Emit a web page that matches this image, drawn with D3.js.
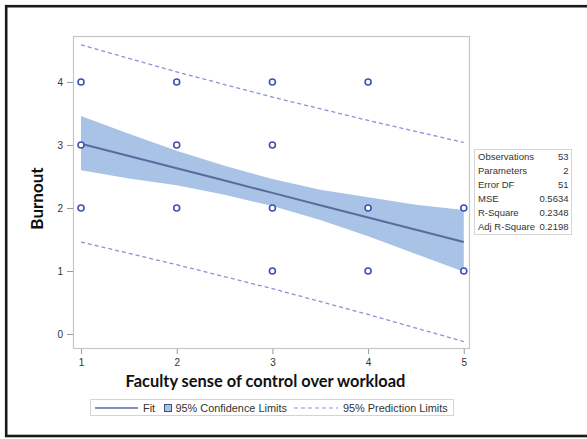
<!DOCTYPE html>
<html>
<head>
<meta charset="utf-8">
<script src="https://cdn.jsdelivr.net/npm/d3@7"></script>
<style>
  html, body { margin: 0; padding: 0; background: #fff; }
  svg { display: block; }
</style>
</head>
<body>
<svg id="chart" width="587" height="439"></svg>
<script>
// ---- Data ----
const pointX = [1, 1, 1, 2, 2, 2, 3, 3, 3, 3, 4, 4, 4, 5, 5];
const pointY = [4, 3, 2, 4, 3, 2, 4, 3, 2, 1, 4, 2, 1, 2, 1];

const bandX     = [1, 1.5, 2, 2.5, 3, 3.5, 4, 4.5, 5];
const fitY      = [3.02, 2.825, 2.63, 2.435, 2.24, 2.045, 1.85, 1.655, 1.46];
const clmUpper  = [3.46, 3.18, 2.91, 2.67, 2.46, 2.29, 2.17, 2.05, 1.97];
const clmLower  = [2.60, 2.47, 2.36, 2.21, 2.03, 1.81, 1.55, 1.27, 0.99];

const predX     = [1, 2, 3, 4, 5];
const pclUpper  = [4.59, 4.16, 3.76, 3.39, 3.04];
const pclLower  = [1.46, 1.10, 0.72, 0.31, -0.12];

const xTicks = [1, 2, 3, 4, 5];
const yTicks = [0, 1, 2, 3, 4];

const statLabels = ["Observations", "Parameters", "Error DF", "MSE", "R-Square", "Adj R-Square"];
const statValues = ["53", "2", "51", "0.5634", "0.2348", "0.2198"];

const legendLabels = ["Fit", "95% Confidence Limits", "95% Prediction Limits"];
const xTitle = "Faculty sense of control over workload";
const yTitle = "Burnout";

// ---- Styles ----
const bandColor = "#a9c3e6";
const fitColor = "#5a6b9c";
const predColor = "#8c92d6";
const markerColor = "#3f52b0";
const frameColor = "#c6c6c6";
const textColor = "#333";
const sans = "'Liberation Sans', Arial, sans-serif";
const titleFont = "Lato, 'Open Sans', sans-serif";

const svg = d3.select("#chart");

// outer black border
svg.append("rect")
  .attr("x", 6.2).attr("y", 6.2)
  .attr("width", 590).attr("height", 429.8)
  .attr("fill", "#fff")
  .attr("stroke", "#1a1a1a")
  .attr("stroke-width", 2.6);

const plot = { left: 73, top: 36, right: 470, bottom: 349 };

const x = d3.scaleLinear().domain([0.916, 5.065]).range([plot.left, plot.right]);
const y = d3.scaleLinear().domain([-0.238, 4.73]).range([plot.bottom, plot.top]);

svg.append("clipPath").attr("id", "clip")
  .append("rect")
  .attr("x", plot.left).attr("y", plot.top)
  .attr("width", plot.right - plot.left).attr("height", plot.bottom - plot.top);

const g = svg.append("g").attr("clip-path", "url(#clip)");

// confidence band
const bandData = bandX.map((v, i) => ({ x: v, lo: clmLower[i], hi: clmUpper[i] }));
g.append("path")
  .datum(bandData)
  .attr("fill", bandColor)
  .attr("d", d3.area().x(d => x(d.x)).y0(d => y(d.lo)).y1(d => y(d.hi)));

// fit line
const fitData = bandX.map((v, i) => ({ x: v, y: fitY[i] }));
g.append("path")
  .datum(fitData)
  .attr("fill", "none")
  .attr("stroke", fitColor)
  .attr("stroke-width", 2)
  .attr("d", d3.line().x(d => x(d.x)).y(d => y(d.y)));

// prediction limits
[pclUpper, pclLower].forEach(arr => {
  g.append("path")
    .datum(predX.map((v, i) => ({ x: v, y: arr[i] })))
    .attr("fill", "none")
    .attr("stroke", predColor)
    .attr("stroke-width", 1.3)
    .attr("stroke-dasharray", "4,3")
    .attr("d", d3.line().x(d => x(d.x)).y(d => y(d.y)));
});

// points
svg.append("g").selectAll("circle")
  .data(pointX.map((v, i) => ({ x: v, y: pointY[i] })))
  .join("circle")
  .attr("cx", d => x(d.x))
  .attr("cy", d => y(d.y))
  .attr("r", 3)
  .attr("fill", "#fff")
  .attr("stroke", markerColor)
  .attr("stroke-width", 1.6);

// plot frame
svg.append("rect")
  .attr("x", plot.left + 0.5).attr("y", plot.top + 0.5)
  .attr("width", plot.right - plot.left - 1).attr("height", plot.bottom - plot.top - 1)
  .attr("fill", "none")
  .attr("stroke", frameColor)
  .attr("stroke-width", 1.2);

// axes
const xAxis = svg.append("g")
  .attr("transform", `translate(0,${plot.bottom})`)
  .call(d3.axisBottom(x).tickValues(xTicks).tickFormat(d3.format("d")).tickSize(5).tickPadding(5));
const yAxis = svg.append("g")
  .attr("transform", `translate(${plot.left},0)`)
  .call(d3.axisLeft(y).tickValues(yTicks).tickFormat(d3.format("d")).tickSize(6).tickPadding(4));
[xAxis, yAxis].forEach(ax => {
  ax.select(".domain").remove();
  ax.selectAll(".tick line").attr("stroke", "#999");
  ax.selectAll(".tick text")
    .attr("fill", textColor)
    .style("font-family", sans)
    .style("font-size", "10px");
});

// axis titles
svg.append("text")
  .attr("x", 265.5).attr("y", 387)
  .attr("text-anchor", "middle")
  .style("font-family", titleFont)
  .style("font-weight", "bold")
  .style("font-size", "16.4px")
  .attr("fill", "#111")
  .text(xTitle);

svg.append("text")
  .attr("transform", "translate(43,198.5) rotate(-90)")
  .attr("text-anchor", "middle")
  .style("font-family", titleFont)
  .style("font-weight", "bold")
  .style("font-size", "17px")
  .attr("fill", "#111")
  .text(yTitle);

// legend
const lg = svg.append("g");
lg.append("rect")
  .attr("x", 90.5).attr("y", 399.5).attr("width", 363).attr("height", 16)
  .attr("fill", "#fff").attr("stroke", "#d4d4d4");
const ly = 408;
lg.append("line").attr("x1", 95).attr("x2", 138).attr("y1", ly).attr("y2", ly)
  .attr("stroke", fitColor).attr("stroke-width", 1.6);
lg.append("text").attr("x", 143).attr("y", ly + 3.8).text(legendLabels[0]);
lg.append("rect").attr("x", 164.5).attr("y", ly - 3.5).attr("width", 7).attr("height", 7)
  .attr("fill", bandColor).attr("stroke", "#3f4f7a").attr("stroke-width", 1);
lg.append("text").attr("x", 175.5).attr("y", ly + 3.8).text(legendLabels[1]);
lg.append("line").attr("x1", 294).attr("x2", 338).attr("y1", ly).attr("y2", ly)
  .attr("stroke", predColor).attr("stroke-width", 1.2).attr("stroke-dasharray", "4,3");
lg.append("text").attr("x", 343).attr("y", ly + 3.8).text(legendLabels[2]);
lg.selectAll("text")
  .style("font-family", sans).style("font-size", "10.9px").attr("fill", textColor);

// stats table
const st = svg.append("g");
st.append("rect")
  .attr("x", 474.5).attr("y", 149.5).attr("width", 97).attr("height", 85)
  .attr("fill", "#fff").attr("stroke", "#d4d4d4");
statLabels.forEach((lab, i) => {
  const yy = 159.5 + i * 14;
  st.append("text").attr("x", 478).attr("y", yy).text(lab);
  st.append("text").attr("x", 568.5).attr("y", yy).attr("text-anchor", "end").text(statValues[i]);
});
st.selectAll("text")
  .style("font-family", sans).style("font-size", "9.5px").attr("fill", textColor);
</script>
</body>
</html>
